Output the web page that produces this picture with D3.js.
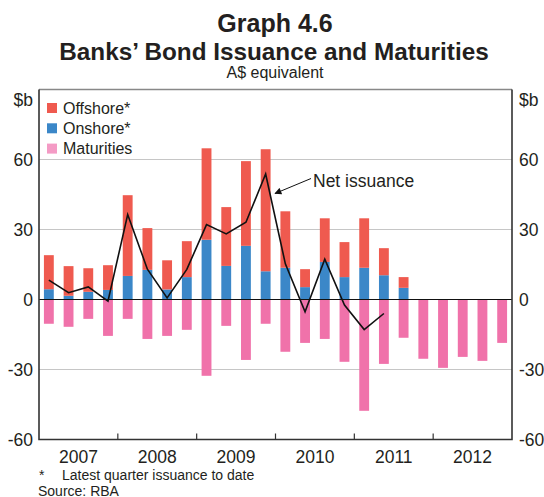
<!DOCTYPE html>
<html>
<head>
<meta charset="utf-8">
<script src="https://cdn.jsdelivr.net/npm/d3@7"></script>
<style>
  body { margin: 0; background: #fff; }
  svg { font-family: Arial, "Liberation Sans", sans-serif; }
</style>
</head>
<body>
<svg id="chart" width="544" height="497"></svg>
<script>
// quarterly data, 2007 Q1 .. 2012 Q4 ($b)
const years = ["2007", "2008", "2009", "2010", "2011", "2012"]
const quarters = d3.range(24)

const onshore = [4.4, 1.6, 3.3, 4.1, 10.1, 12.7, 4.3, 9.6, 25.6, 14.4, 23.0, 12.1,
                 13.6, 5.3, 16.1, 9.6, 13.6, 10.4, 5.0, 0, 0, 0, 0, 0]
const offshore = [14.6, 12.7, 10.1, 10.6, 34.6, 17.9, 12.5, 15.4, 39.2, 25.2, 36.3, 52.3,
                  24.2, 7.7, 18.7, 15.0, 21.2, 11.6, 4.6, 0, 0, 0, 0, 0]
const maturities = [-10.4, -11.7, -8.3, -15.6, -8.3, -16.9, -15.6, -13.0, -32.7, -11.3, -25.9, -10.4,
                    -22.4, -18.6, -16.9, -26.7, -47.7, -27.6, -16.4, -25.4, -29.3, -24.6, -26.3, -18.6]
const netIssuance = [8.3, 2.9, 5.4, -0.7, 36.4, 13.0, 0.7, 12.9, 32.1, 28.1, 33.1, 53.8,
                     15.3, -5.3, 17.3, -2.4, -12.9, -6.0]

const yTicks = [-60, -30, 0, 30, 60]

const colors = { offshore: "#ef5a4f", onshore: "#3b87c8", maturities: "#f072aa", matLegend: "#f49bc5" }

const svg = d3.select("#chart")
const plotL = 39, plotR = 512, plotT = 89.5, plotB = 439.5
const textCol = "#231f20"

const x = d3.scaleBand().domain(quarters).range([plotL, plotR]).paddingInner(0.5).paddingOuter(0.25)
const y = d3.scaleLinear().domain([-60, 90]).range([plotB, plotT])
const yearX = d3.scaleLinear().domain([0, 24]).range([plotL, plotR])

// titles
svg.append("text").attr("x", 275).attr("y", 32).attr("text-anchor", "middle")
    .attr("font-size", 25).attr("font-weight", "bold").attr("fill", textCol).text("Graph 4.6")
svg.append("text").attr("x", 274).attr("y", 60).attr("text-anchor", "middle")
    .attr("font-size", 24.3).attr("font-weight", "bold").attr("fill", textCol).text("Banks\u2019 Bond Issuance and Maturities")
svg.append("text").attr("x", 275).attr("y", 78).attr("text-anchor", "middle")
    .attr("font-size", 16).attr("fill", textCol).text("A$ equivalent")

// gridlines
svg.append("g").selectAll("line")
    .data([-30, 30, 60])
    .enter().append("line")
    .attr("x1", plotL).attr("x2", plotR)
    .attr("y1", d => y(d)).attr("y2", d => y(d))
    .attr("stroke", "#c6c6c6").attr("stroke-width", 1)

// bars
const bars = svg.append("g")
bars.selectAll(".on").data(quarters).enter().append("rect")
    .attr("x", d => x(d)).attr("width", x.bandwidth())
    .attr("y", d => y(onshore[d])).attr("height", d => y(0) - y(onshore[d]))
    .attr("fill", colors.onshore)
bars.selectAll(".off").data(quarters).enter().append("rect")
    .attr("x", d => x(d)).attr("width", x.bandwidth())
    .attr("y", d => y(onshore[d] + offshore[d])).attr("height", d => y(onshore[d]) - y(onshore[d] + offshore[d]))
    .attr("fill", colors.offshore)
bars.selectAll(".mat").data(quarters).enter().append("rect")
    .attr("x", d => x(d)).attr("width", x.bandwidth())
    .attr("y", y(0)).attr("height", d => y(maturities[d]) - y(0))
    .attr("fill", colors.maturities)

// zero line
svg.append("line").attr("x1", plotL).attr("x2", plotR).attr("y1", y(0)).attr("y2", y(0))
    .attr("stroke", "#111").attr("stroke-width", 1.2)

// net issuance line
const line = d3.line().x((d, i) => x(i) + x.bandwidth() / 2).y(d => y(d))
svg.append("path").datum(netIssuance).attr("d", line)
    .attr("fill", "none").attr("stroke", "#111").attr("stroke-width", 1.6).attr("stroke-linejoin", "miter")

// annotation
svg.append("defs").append("marker").attr("id", "arr")
    .attr("viewBox", "0 0 10 10").attr("refX", 9).attr("refY", 5)
    .attr("markerWidth", 9).attr("markerHeight", 7).attr("orient", "auto")
    .attr("markerUnits", "userSpaceOnUse")
    .append("path").attr("d", "M0,0L10,5L0,10z").attr("fill", "#111")
svg.append("line").attr("x1", 311).attr("y1", 178.5).attr("x2", 275).attr("y2", 193.5)
    .attr("stroke", "#111").attr("stroke-width", 1).attr("marker-end", "url(#arr)")
svg.append("text").attr("x", 313).attr("y", 187).attr("font-size", 17.5).attr("fill", textCol).text("Net issuance")

// frame
svg.append("line").attr("x1", plotL).attr("x2", plotR).attr("y1", plotT).attr("y2", plotT)
    .attr("stroke", "#888").attr("stroke-width", 1.5)
svg.append("path").attr("d", `M${plotL},${plotT}V${plotB}H${plotR}V${plotT}`)
    .attr("fill", "none").attr("stroke", "#333").attr("stroke-width", 1.6)

// year ticks
svg.append("g").selectAll("line").data(d3.range(1, 6)).enter().append("line")
    .attr("x1", d => yearX(d * 4)).attr("x2", d => yearX(d * 4))
    .attr("y1", plotB).attr("y2", plotB - 6)
    .attr("stroke", "#333").attr("stroke-width", 1.2)
svg.append("g").selectAll("text").data(years).enter().append("text")
    .attr("x", (d, i) => yearX(i * 4 + 2)).attr("y", 462.5)
    .attr("text-anchor", "middle").attr("font-size", 17.5).attr("fill", textCol).text(d => d)

// y axis labels
const yl = svg.append("g").attr("font-size", 17.5).attr("fill", textCol)
yl.selectAll(".l").data(yTicks).enter().append("text")
    .attr("x", 33).attr("y", d => y(d)).attr("dy", "0.35em").attr("text-anchor", "end").text(d => d)
yl.selectAll(".r").data(yTicks).enter().append("text")
    .attr("x", 519).attr("y", d => y(d)).attr("dy", "0.35em").text(d => d)
yl.append("text").attr("x", 33).attr("y", 106).attr("text-anchor", "end").text("$b")
yl.append("text").attr("x", 519).attr("y", 106).text("$b")

// legend
const legendItems = [
  { label: "Offshore*", color: colors.offshore },
  { label: "Onshore*", color: colors.onshore },
  { label: "Maturities", color: colors.matLegend }
]
const lg = svg.append("g").selectAll("g").data(legendItems).enter().append("g")
    .attr("transform", (d, i) => `translate(47,${108 + i * 20.3})`)
lg.append("rect").attr("x", 0).attr("y", -5).attr("width", 10).attr("height", 10).attr("fill", d => d.color)
lg.append("text").attr("x", 16).attr("y", 0).attr("dy", "0.36em").attr("font-size", 16)
    .attr("fill", textCol).text(d => d.label)

// footnotes
svg.append("text").attr("x", 39).attr("y", 479.5).attr("font-size", 14).attr("fill", textCol).text("*")
svg.append("text").attr("x", 62).attr("y", 479.5).attr("font-size", 14).attr("fill", textCol).text("Latest quarter issuance to date")
svg.append("text").attr("x", 38).attr("y", 495.5).attr("font-size", 14).attr("fill", textCol).text("Source: RBA")
</script>
</body>
</html>
